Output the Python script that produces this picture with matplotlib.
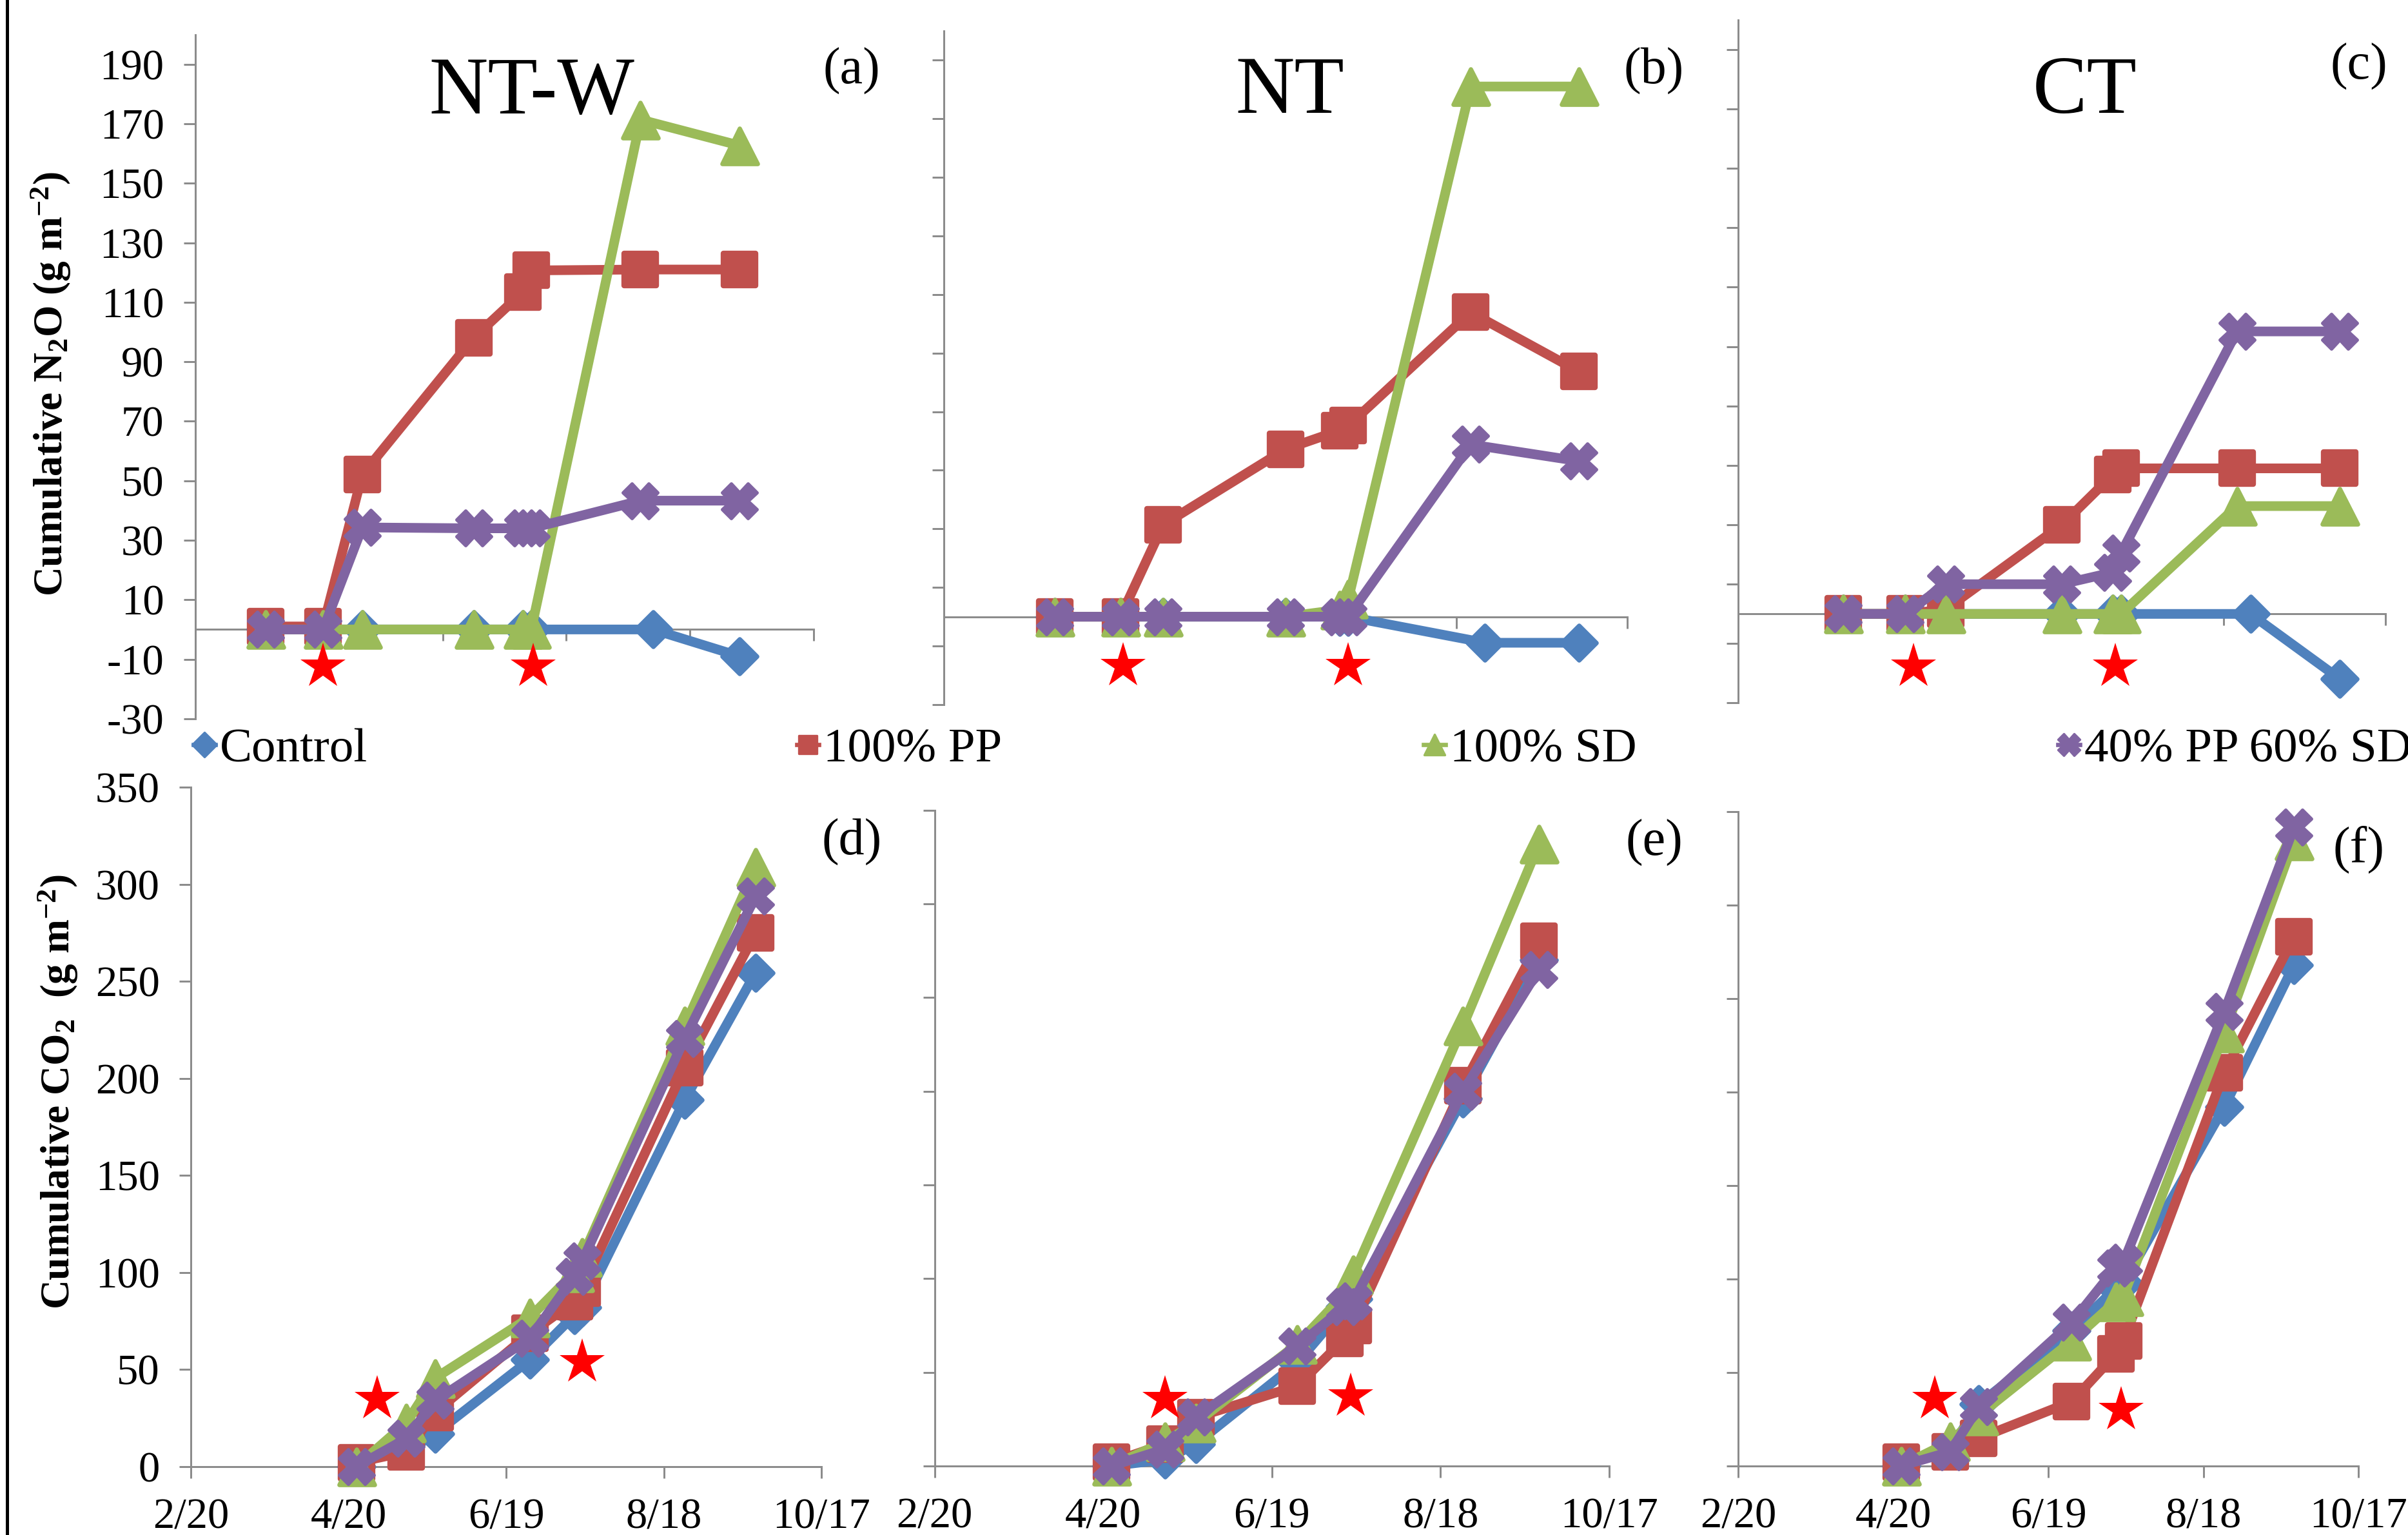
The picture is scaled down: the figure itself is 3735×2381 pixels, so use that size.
import matplotlib
matplotlib.use('Agg')
import matplotlib.pyplot as plt
from matplotlib.markers import MarkerStyle
from matplotlib.lines import Line2D
from datetime import date

plt.rcParams['font.family'] = ['Liberation Serif', 'DejaVu Serif']
plt.rcParams['mathtext.fontset'] = 'custom'
plt.rcParams['mathtext.rm'] = 'Liberation Serif'
plt.rcParams['mathtext.bf'] = 'Liberation Serif:bold'
plt.rcParams['mathtext.it'] = 'Liberation Serif:italic'

# ---------------- data ----------------
series_names = ['Control', '100% PP', '100% SD', '40% PP 60% SD']
panel_titles = ['NT-W', 'NT', 'CT']
panel_letters = ['(a)', '(b)', '(c)', '(d)', '(e)', '(f)']
top_yticks = [-30, -10, 10, 30, 50, 70, 90, 110, 130, 150, 170, 190]
bottom_yticks = [0, 50, 100, 150, 200, 250, 300, 350]
bottom_xtick_labels = ['2/20', '4/20', '6/19', '8/18', '10/17']
top_xtick_labels_a = ['2/20', '4/20', '6/19', '8/18', '10/17', '12/16']
top_xtick_labels_bc = ['2/20', '4/20', '6/19', '8/18', '10/17']

# (a) NT-W cumulative N2O
a_dates = ['3/25', '4/22', '5/11', '7/4', '7/28', '8/1', '9/23', '11/10']
a_dates_control = ['3/25', '4/22', '5/11', '7/4', '7/28', '8/1', '9/29', '11/10']
a_control = [0, 0, 0, 0, 0, 0, 0, -9]
a_pp = [1, 1, 52, 98, 113.5, 120.7, 121, 121]
a_sd = [0, 0, 0, 0, 0, 0, 171.4, 162.7]
a_mix = [0, 0, 34.3, 34, 34, 34, 43.3, 43.3]
a_star_dates = ['4/22', '8/2']
a_star_y = [-12.5, -12.5]

# (b) NT cumulative N2O
b_dates = ['3/30', '4/22', '5/7', '6/19', '7/8', '7/11', '8/23', '9/30']
b_dates_control = ['3/30', '4/22', '5/7', '6/19', '7/8', '7/11', '8/28', '9/30']
b_control = [0, 0, 0, 0, 0, 0, -8.9, -8.9]
b_pp = [0, 0, 31.4, 57.2, 63.6, 65.2, 103.9, 83.7]
b_sd = [0, 0, 0, 0, 2.4, 6.0, 181, 181]
b_mix = [0, 0, 0, 0, 0, 0, 58.8, 53.1]
b_star_dates = ['4/23', '7/11']
b_star_y = [-16.9, -16.9]

# (c) CT cumulative N2O
c_dates = ['3/30', '4/22', '5/7', '6/19', '7/8', '7/11', '8/23', '9/30']
c_dates_control = ['3/30', '4/22', '5/7', '6/19', '7/8', '7/11', '8/28', '9/30']
c_control = [0, 0, 0, 0, 0, 0, 0, -21.8]
c_pp = [0, 0, 1.5, 29.9, 46.9, 49, 49, 49]
c_sd = [0, 0, 0, 0, 0, 0, 36.3, 36.3]
c_mix = [0, 0, 10, 10, 14, 20.4, 95.1, 95.1]
c_star_dates = ['4/25', '7/9']
c_star_y = [-17.8, -17.8]

# (d) NT-W cumulative CO2
d_dates = ['4/23', '5/12', '5/23', '6/28', '7/15', '7/18', '8/26', '9/22']
d_control = [0, 11.7, 17, 55, 78, 82, 189, 254.5]
d_pp = [2, 7.6, 28, 68.6, 85, 92, 205.6, 275]
d_sd = [0, 22.5, 45.6, 76.8, 100, 108, 227, 308.7]
d_mix = [0, 14.4, 34, 66, 98, 106, 220.6, 293.8]
d_star_dates = ['5/1', '7/18']
d_star_y = [34.7, 53.7]

# (e) NT cumulative CO2
e_dates = ['4/23', '5/12', '5/23', '6/28', '7/15', '7/18', '8/26', '9/22']
e_control = [0, 3.4, 11.8, 55, 85, 89, 196, 270]
e_pp = [2, 11.8, 25.9, 42.7, 68, 75, 203, 280]
e_sd = [0, 13, 23, 65, 92, 102, 235, 332]
e_mix = [0, 9, 26, 64, 85, 88, 200, 265]
e_star_dates = ['5/12', '7/17']
e_star_y = [35.7, 37]

# (f) CT cumulative CO2
f_dates = ['4/23', '5/12', '5/23', '6/28', '7/15', '7/18', '8/26', '9/22']
f_control = [0, 9, 33, 72.4, 95, 97.8, 192, 268]
f_pp = [2, 7.6, 14.7, 34.4, 59.8, 66.8, 210.5, 283]
f_sd = [0, 13, 27, 66.8, 88, 90.8, 231.7, 334.5]
f_mix = [0, 7.6, 31.6, 76.7, 106, 109, 243, 341.6]
f_star_dates = ['5/6', '7/17']
f_star_y = [35.8, 30]

# ---------------- style ----------------
colors = ['#4F81BD', '#C0504D', '#9BBB59', '#8064A2']
markers = ['D', 's', '^', 'X']
msizes = [11.5, 15, 16.5, 16]
mews = [2.0, 2.5, 2.0, 1.5]
axis_grey = '#8C8C8C'
ORIGIN = date(2016, 2, 20)


def day(s):
    m, d = (int(v) for v in s.split('/'))
    return (date(2016, m, d) - ORIGIN).days


W, H, DPI = 3735, 2381, 240
fig = plt.figure(figsize=(W / DPI, H / DPI), dpi=DPI)

rects = {
    'a': [0.0811, 0.5318, 0.2568, 0.4457],
    'b': [0.3920, 0.5410, 0.2838, 0.4389],
    'c': [0.7217, 0.5420, 0.2689, 0.4451],
    'd': [0.0793, 0.0446, 0.2618, 0.4426],
    'e': [0.3881, 0.0450, 0.2802, 0.4271],
    'f': [0.7219, 0.0450, 0.2576, 0.4262],
}

panels = {
    'a': (a_dates, a_dates_control, [a_control, a_pp, a_sd, a_mix], a_star_dates, a_star_y),
    'b': (b_dates, b_dates_control, [b_control, b_pp, b_sd, b_mix], b_star_dates, b_star_y),
    'c': (c_dates, c_dates_control, [c_control, c_pp, c_sd, c_mix], c_star_dates, c_star_y),
    'd': (d_dates, d_dates, [d_control, d_pp, d_sd, d_mix], d_star_dates, d_star_y),
    'e': (e_dates, e_dates, [e_control, e_pp, e_sd, e_mix], e_star_dates, e_star_y),
    'f': (f_dates, f_dates, [f_control, f_pp, f_sd, f_mix], f_star_dates, f_star_y),
}

TICKFS = 20
for key, rect in rects.items():
    ax = fig.add_axes(rect)
    dates, dates_ctrl, vals, sdates, sy = panels[key]
    for i, (v, c, m) in enumerate(zip(vals, colors, markers)):
        xs = [day(s) for s in (dates_ctrl if i == 0 else dates)]
        ax.plot(xs, v, color=c, lw=4.5, solid_joinstyle='round', solid_capstyle='round',
                marker=MarkerStyle(m, joinstyle='round'), ms=msizes[i], mew=mews[i],
                mfc=c, mec=c, clip_on=False, zorder=3 + i)
    ax.plot([day(s) for s in sdates], sy, linestyle='none', marker='*', ms=22,
            color='#FF0000', mew=0, clip_on=False, zorder=10)

    for sp in ['top', 'right']:
        ax.spines[sp].set_visible(False)
    for sp in ['left', 'bottom']:
        ax.spines[sp].set_color(axis_grey)
        ax.spines[sp].set_linewidth(0.9)
    ax.tick_params(axis='both', direction='out', length=5.5, width=0.9, color=axis_grey,
                   labelsize=TICKFS, labelcolor='black')
    ax.tick_params(axis='y', pad=9)
    ax.tick_params(axis='x', pad=9)

    if key in 'abc':
        ax.set_ylim(-30, 200)
        ax.set_yticks(top_yticks)
        ax.spines['bottom'].set_position(('data', 0))
        if key == 'a':
            ax.set_xlim(0, 300)
            ax.set_xticks([day(s) if s != '12/16' else 300 for s in top_xtick_labels_a])
        else:
            ax.set_xlim(0, 240)
            ax.set_xticks([day(s) for s in top_xtick_labels_bc])
        ax.set_xticklabels([])
        if key == 'a':
            ax.set_yticklabels([str(t) for t in top_yticks])
        else:
            ax.set_yticklabels([])
    else:
        ax.set_ylim(0, 350)
        ax.set_yticks(bottom_yticks)
        ax.set_xlim(0, 240)
        ax.set_xticks([day(s) for s in bottom_xtick_labels])
        ax.set_xticklabels(bottom_xtick_labels)
        if key == 'd':
            ax.set_yticklabels([str(t) for t in bottom_yticks])
        else:
            ax.set_yticklabels([])

# titles and panel letters
title_pos = [(0.2209, 0.9261), (0.5357, 0.9267), (0.8658, 0.9267)]
for t, (x, y) in zip(panel_titles, title_pos):
    fig.text(x, y, t, fontsize=38, ha='center', va='baseline')

letter_pos = [(0.3537, 0.9538), (0.6867, 0.9538), (0.9797, 0.9567),
              (0.3537, 0.4515), (0.6870, 0.4507), (0.9794, 0.4465)]
for t, (x, y) in zip(panel_letters, letter_pos):
    fig.text(x, y, t, fontsize=24, ha='center', va='center')

# y labels
fig.text(0.0212, 0.750, r'Cumulative N$_\mathbf{2}$O (g m$^\mathbf{-2}$)', fontsize=19,
         fontweight='bold', rotation=90, ha='center', va='center')
fig.text(0.0241, 0.2885, r'Cumulative CO$_\mathbf{2}$  (g m$^\mathbf{-2}$)', fontsize=19,
         fontweight='bold', rotation=90, ha='center', va='center')

# legend (one entry per position, spread across the row)
leg_x = [300 / W, 1236 / W, 2208 / W, 3192 / W]
leg_ms = [8, 8.5, 9.5, 10]
for name, c, m, lx, lms in zip(series_names, colors, markers, leg_x, leg_ms):
    h = Line2D([], [], color=c, lw=2, marker=MarkerStyle(m, joinstyle='round'), ms=lms,
               mfc=c, mec=c)
    fig.legend([h], [name], loc='center left', bbox_to_anchor=(lx, 1 - 1163 / H),
               frameon=False, fontsize=22.5, handlelength=0.45, handletextpad=0.1,
               borderpad=0, borderaxespad=0)

# left border line
fig.add_artist(Line2D([11 / W, 11 / W], [0, 1], color='black', lw=1.5,
                      transform=fig.transFigure))

fig.savefig('out.png', dpi=DPI)
